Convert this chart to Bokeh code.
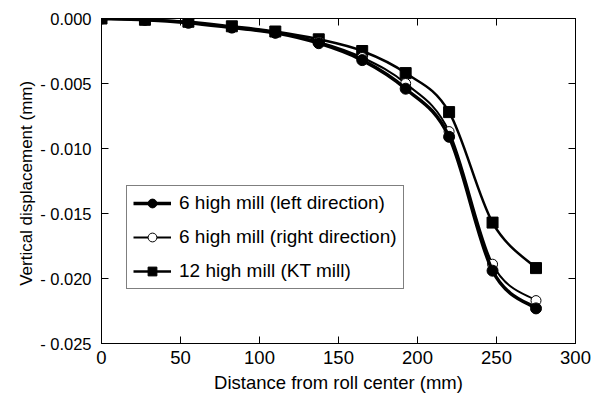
import numpy as np
from bokeh.plotting import figure
from bokeh.models import (LinearAxis, Range1d, FixedTicker, CustomJSTickFormatter,
                          Legend, LegendItem, ColumnDataSource)
from bokeh.embed import file_html
from bokeh.resources import INLINE

# ---- data ----
distance = [0, 27.5, 55, 82.5, 110, 137.5, 165, 192.5, 220, 247.5, 275]
left_dir = [0.0, -0.0001, -0.00033, -0.0007, -0.0011, -0.0019, -0.0032, -0.0054, -0.0091, -0.0194, -0.0223]
right_dir = [0.0, -0.0001, -0.0003, -0.0007, -0.0011, -0.0018, -0.0030, -0.0050, -0.0087, -0.0189, -0.0217]
kt_mill = [0.0, -0.0001, -0.00025, -0.0006, -0.0010, -0.0016, -0.0025, -0.0042, -0.0072, -0.0157, -0.0192]

labels = ["6 high mill (left direction)", "6 high mill (right direction)", "12 high mill (KT mill)"]
x_ticks = [0, 50, 100, 150, 200, 250, 300]
y_ticks = [0.0, -0.005, -0.010, -0.015, -0.020, -0.025]

FONT = "Liberation Sans"


def bezier_source(x, y):
    """Smooth (Catmull-Rom style) Bezier segments through the data points."""
    x = np.asarray(x, float)
    y = np.asarray(y, float)
    n = len(x)
    i = np.arange(n - 1)
    ip = np.clip(i - 1, 0, n - 1)
    inx = np.clip(i + 2, 0, n - 1)
    x0, y0, x1, y1 = x[i], y[i], x[i + 1], y[i + 1]
    cx0 = x0 + (x1 - x[ip]) / 6.0
    cy0 = y0 + (y1 - y[ip]) / 6.0
    cx1 = x1 - (x[inx] - x0) / 6.0
    cy1 = y1 - (y[inx] - y0) / 6.0
    return ColumnDataSource(dict(x0=x0, y0=y0, x1=x1, y1=y1,
                                 cx0=cx0, cy0=cy0, cx1=cx1, cy1=cy1))


p = figure(width=602, height=396, x_range=Range1d(0, 300), y_range=Range1d(-0.025, 0.0),
           output_backend="svg", toolbar_location=None,
           min_border_left=101, min_border_right=27, min_border_top=18, min_border_bottom=53)
p.xgrid.visible = False
p.ygrid.visible = False
p.outline_line_color = "black"
p.outline_line_width = 1
p.background_fill_color = "white"
p.border_fill_color = "white"

empty_fmt = CustomJSTickFormatter(code="return '';")
yfmt = CustomJSTickFormatter(code="""
const v = Math.abs(tick) < 1e-12 ? 0 : tick;
if (v === 0) { return "0.000"; }
return "- " + Math.abs(v).toFixed(3);
""")

for ax in p.xaxis:
    ax.ticker = FixedTicker(ticks=x_ticks)
    ax.axis_label = "Distance from roll center (mm)"
for ax in p.yaxis:
    ax.ticker = FixedTicker(ticks=y_ticks)
    ax.formatter = yfmt
    ax.axis_label = "Vertical displacement  (mm)"

for ax in list(p.xaxis) + list(p.yaxis):
    ax.major_tick_in = 7
    ax.major_tick_out = 0
    ax.minor_tick_in = 0
    ax.minor_tick_out = 0
    ax.axis_line_color = "black"
    ax.major_tick_line_color = "black"
    ax.major_label_text_font = FONT
    ax.major_label_text_color = "black"
    ax.axis_label_text_font = FONT
    ax.axis_label_text_font_style = "normal"
    ax.axis_label_text_color = "black"

p.xaxis.major_label_text_font_size = "18.5px"
p.xaxis.axis_label_text_font_size = "18.5px"
p.yaxis.major_label_text_font_size = "16.5px"
p.yaxis.axis_label_text_font_size = "17px"
p.xaxis.major_label_standoff = 7
p.xaxis.axis_label_standoff = 5
p.yaxis.major_label_standoff = 10
p.yaxis.axis_label_standoff = 1

top_ax = LinearAxis(ticker=FixedTicker(ticks=x_ticks), formatter=empty_fmt,
                    major_tick_in=7, major_tick_out=0, minor_tick_in=0, minor_tick_out=0,
                    axis_line_color="black", major_tick_line_color="black")
right_ax = LinearAxis(ticker=FixedTicker(ticks=y_ticks), formatter=empty_fmt,
                      major_tick_in=7, major_tick_out=0, minor_tick_in=0, minor_tick_out=0,
                      axis_line_color="black", major_tick_line_color="black")
p.add_layout(top_ax, "above")
p.add_layout(right_ax, "right")

# KT mill
kt_line = p.bezier(x0="x0", y0="y0", x1="x1", y1="y1", cx0="cx0", cy0="cy0", cx1="cx1", cy1="cy1",
                   source=bezier_source(distance, kt_mill), line_color="black", line_width=2.5)
kt_pts = p.scatter(distance, kt_mill, marker="square", size=11, fill_color="black", line_color="black")

# right direction
r_line = p.bezier(x0="x0", y0="y0", x1="x1", y1="y1", cx0="cx0", cy0="cy0", cx1="cx1", cy1="cy1",
                  source=bezier_source(distance, right_dir), line_color="black", line_width=2)
r_pts = p.scatter(distance, right_dir, marker="circle", size=10, fill_color="white", line_color="black")

# left direction
l_line = p.bezier(x0="x0", y0="y0", x1="x1", y1="y1", cx0="cx0", cy0="cy0", cx1="cx1", cy1="cy1",
                  source=bezier_source(distance, left_dir), line_color="black", line_width=3.5)
l_pts = p.scatter(distance, left_dir, marker="circle", size=11, fill_color="black", line_color="black")

legend = Legend(items=[
    LegendItem(label=labels[0], renderers=[l_line, l_pts]),
    LegendItem(label=labels[1], renderers=[r_line, r_pts]),
    LegendItem(label=labels[2], renderers=[kt_line, kt_pts]),
], location=(25, 54))
legend.label_text_font = FONT
legend.label_text_font_size = "19px"
legend.label_text_color = "black"
legend.glyph_width = 38
legend.glyph_height = 22
legend.label_height = 22
legend.spacing = 12
legend.padding = 6
legend.margin = 0
legend.label_standoff = 8
legend.border_line_color = "black"
legend.border_line_width = 1
legend.background_fill_alpha = 1.0
p.add_layout(legend)

open("out.html", "w").write(file_html(p, INLINE))
